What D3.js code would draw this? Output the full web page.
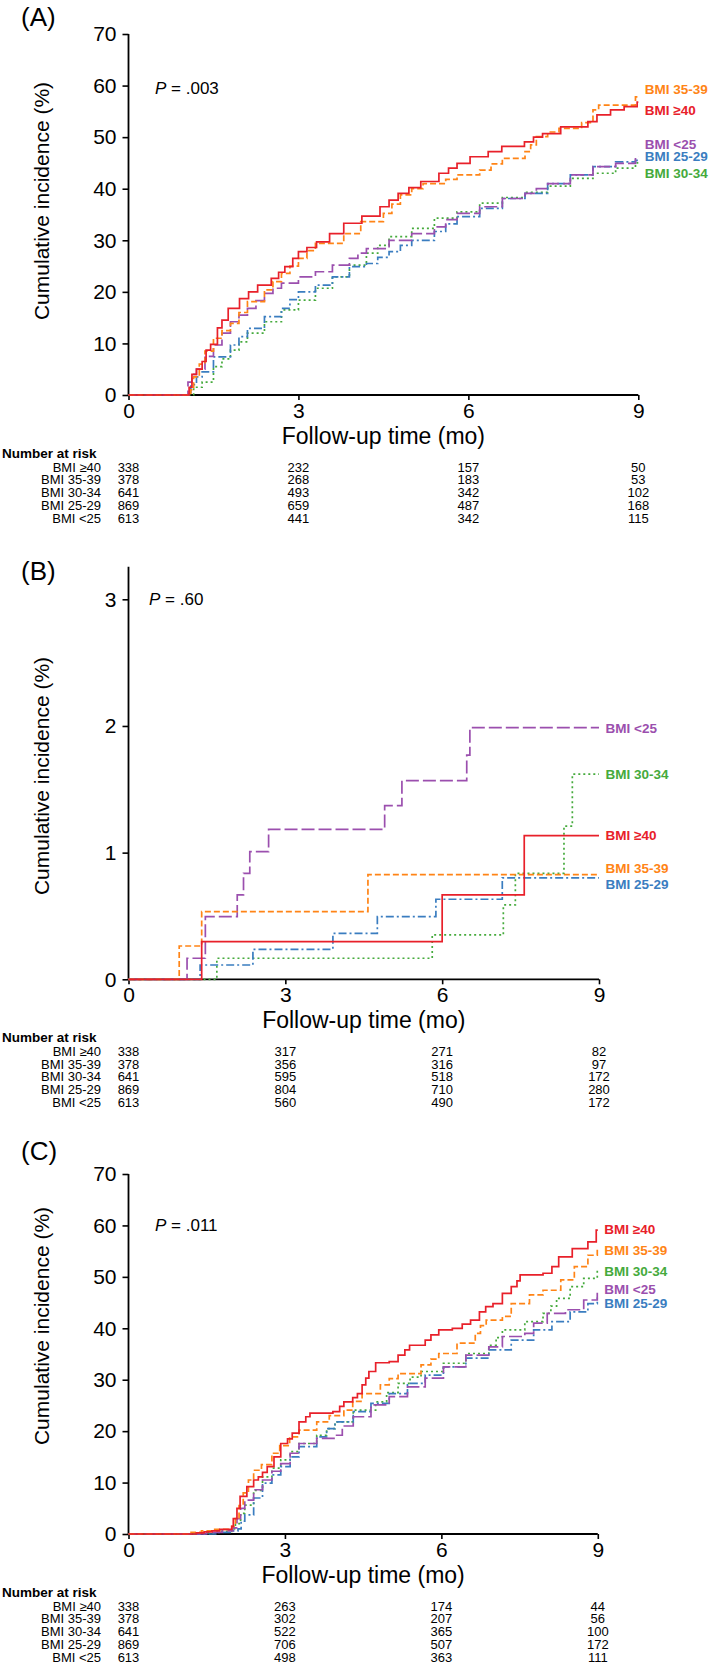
<!DOCTYPE html>
<html><head><meta charset="utf-8">
<script src="https://cdn.jsdelivr.net/npm/d3@7"></script>
<style>
body{margin:0;background:#fff;}
text{font-family:"Liberation Sans",Arial,Helvetica,sans-serif;}
</style></head>
<body>
<svg id="chart" width="709" height="1664"></svg>
<script>
// ---------- DATA ----------
const groups = ["BMI \u226540", "BMI 35-39", "BMI 30-34", "BMI 25-29", "BMI <25"];
const xTicks = [0, 3, 6, 9];
const yTicksAC = [0, 10, 20, 30, 40, 50, 60, 70];
const yTicksB = [0, 1, 2, 3];
const pValues = [".003", ".60", ".011"];
const panelLabels = ["(A)", "(B)", "(C)"];

// Panel A cumulative incidence (%), [month, value] step points
const A_bmi40 = [[0,0],[1.07,1.5],[1.12,4],[1.2,5],[1.3,6.5],[1.37,8.7],[1.45,9.8],[1.57,13],[1.65,14.5],[1.76,16.8],[1.96,18.7],[2.12,20],[2.28,21.3],[2.52,22.6],[2.65,23.8],[2.76,24.9],[2.9,26.5],[3,27.8],[3.15,28.6],[3.32,29.7],[3.55,31.3],[3.8,33.3],[4.12,34.7],[4.44,36.5],[4.6,37.8],[4.76,39.1],[4.95,40.2],[5.16,41.4],[5.48,43],[5.65,44],[5.8,44.9],[6.03,46.2],[6.35,47.2],[6.59,48.2],[6.99,49.1],[7.15,50],[7.31,50.7],[7.63,52],[8.11,53],[8.27,54.3],[8.51,55.3],[8.75,55.9],[8.98,56.8],[9,56.8]];
const A_bmi35 = [[0,0],[1.1,1],[1.15,3.5],[1.25,6],[1.35,8.5],[1.5,11],[1.65,12.5],[1.8,13.9],[1.95,16],[2.1,18.1],[2.4,20.4],[2.55,22],[2.7,23.6],[2.85,25],[3,26.5],[3.15,28],[3.3,29.4],[3.8,31.3],[4.1,33.6],[4.5,35.2],[4.65,37],[4.8,38.8],[5,40],[5.2,41],[5.6,41.8],[5.8,42.7],[6.2,43.6],[6.4,44.8],[6.6,45.9],[7,47.2],[7.1,48.5],[7.2,50.1],[7.4,51],[7.6,51.7],[8,52.8],[8.2,55.3],[8.3,56.2],[8.95,57.8],[9,57.8]];
const A_bmi30 = [[0,0],[1.15,1.5],[1.3,2.5],[1.5,5.5],[1.65,7],[1.8,8.7],[1.95,10.3],[2.1,12],[2.4,14.2],[2.7,16.5],[3,18.4],[3.3,20.7],[3.6,22.9],[3.9,25.2],[4.2,27.5],[4.4,29],[4.6,30.7],[5,32.3],[5.4,34.3],[5.8,35.5],[6.2,37.2],[6.6,38.3],[7,39.3],[7.4,40.5],[7.8,42],[8.2,43],[8.6,44],[8.95,45],[9,45]];
const A_bmi25 = [[0,0],[1.1,2],[1.2,3.5],[1.3,4.5],[1.5,7.4],[1.8,9.7],[1.95,11.3],[2.1,12.9],[2.4,15.2],[2.7,16.8],[2.85,18.5],[3,20],[3.3,21.3],[3.6,22.9],[3.9,24.9],[4.2,25.5],[4.4,26.7],[4.6,27.8],[4.8,29],[5,30],[5.4,31.7],[5.6,33.2],[5.8,34.6],[6.2,36.2],[6.6,38.1],[7,39.1],[7.4,41],[7.8,42.7],[8.2,44.3],[8.6,45.2],[8.95,45.5],[9,45.5]];
const A_bmiLt25 = [[0,0],[1.05,2.5],[1.12,4],[1.2,5],[1.35,7.5],[1.5,9.7],[1.65,12],[1.8,14.2],[1.95,15.5],[2.1,16.8],[2.25,18.3],[2.4,19.7],[2.55,20.7],[2.7,21.7],[3,22.9],[3.3,23.9],[3.6,25.2],[3.9,26.5],[4.05,27.5],[4.2,28.4],[4.6,30],[5,31.3],[5.4,32.6],[5.6,34],[5.8,35.2],[6.2,36.5],[6.6,38.1],[7,39.1],[7.2,40],[7.4,41],[7.8,42.7],[8.2,44.3],[8.6,44.9],[8.95,46.2],[9,46.2]];

// Panel B
const B_bmi40 = [[0,0],[1.4,0.297],[6.0,0.666],[7.57,1.134],[9,1.134]];
const B_bmi35 = [[0,0],[0.97,0.263],[1.4,0.534],[4.58,0.826],[9,0.826]];
const B_bmi30 = [[0,0],[1.69,0.166],[5.81,0.35],[7.17,0.587],[7.4,0.837],[8.33,1.21],[8.49,1.62],[9,1.62]];
const B_bmi25 = [[0,0],[1.37,0.113],[2.38,0.237],[3.91,0.363],[4.76,0.495],[5.88,0.632],[7.15,0.8],[9,0.8]];
const B_bmiLt25 = [[0,0],[1.12,0.166],[1.47,0.495],[2.08,0.666],[2.2,0.837],[2.32,1.008],[2.68,1.184],[4.9,1.371],[5.23,1.568],[6.47,1.77],[6.53,1.987],[9,1.987]];

// Panel C
const C_bmi40 = [[0,0],[1.3,0.2],[1.45,0.4],[1.6,0.6],[1.75,0.9],[1.98,1.5],[2.01,3],[2.08,5],[2.14,7.3],[2.27,9.2],[2.4,10.5],[2.49,11.1],[2.57,12],[2.66,13.1],[2.79,15],[2.92,17.6],[3.05,18.5],[3.14,19.6],[3.27,21.8],[3.4,22.8],[3.48,23.5],[3.92,23.8],[4.05,24.8],[4.13,25.7],[4.3,26.5],[4.39,27.3],[4.48,29],[4.55,30.3],[4.61,31.6],[4.74,33.3],[5,33.5],[5.17,34.8],[5.3,35.8],[5.39,36.7],[5.69,37.7],[5.8,38.7],[5.95,39.7],[6.21,40],[6.4,40.8],[6.56,41.6],[6.73,43.2],[6.85,44.2],[6.99,44.8],[7.17,46.8],[7.34,48.1],[7.45,49.2],[7.51,50.4],[7.95,50.7],[8.12,52],[8.25,53.9],[8.51,55.5],[8.81,56.8],[8.97,59.1],[9,59.1]];
const C_bmi35 = [[0,0],[1.2,0.3],[1.4,0.6],[1.6,0.9],[1.98,1.5],[2.05,3],[2.12,5.5],[2.2,8],[2.3,10.5],[2.4,12.4],[2.55,13.5],[2.75,15.7],[2.9,17.2],[3.09,18.9],[3.27,20.2],[3.61,21.8],[3.85,23],[4.13,24.1],[4.3,25.8],[4.48,27.3],[4.83,29],[5,30.2],[5.17,31.2],[5.61,32.9],[5.8,34],[5.95,35.1],[6.3,37.1],[6.65,39],[6.75,40.5],[6.86,41.6],[7.17,42.3],[7.34,44.8],[7.69,46.5],[7.95,47.4],[8.29,49.4],[8.55,52],[8.81,54.2],[8.99,55.5],[9,55.5]];
const C_bmi30 = [[0,0],[1.4,0.2],[1.7,0.5],[1.98,1],[2.05,2],[2.15,4],[2.23,5.6],[2.4,8.5],[2.57,11.1],[2.75,12.8],[2.92,14.4],[3.1,16],[3.27,17.6],[3.61,19.2],[3.8,20.5],[3.96,21.8],[4.31,24.1],[4.74,25.7],[4.95,27.5],[5.17,29.3],[5.4,30.5],[5.61,31.6],[6.04,33.2],[6.47,35.1],[6.91,36.7],[7.05,38.2],[7.17,39.7],[7.6,41.3],[7.95,42.9],[8.1,44.3],[8.21,45.8],[8.47,48.1],[8.73,49.7],[8.99,51.3],[9,51.3]];
const C_bmi25 = [[0,0],[1.7,0.3],[1.95,0.6],[2.1,1],[2.16,2.5],[2.23,3.7],[2.4,7],[2.57,9.9],[2.75,11.5],[2.92,13.1],[3.1,15],[3.27,17],[3.61,18.9],[3.8,20.5],[3.96,21.8],[4.31,23.8],[4.65,25.4],[5,27.3],[5.35,29.3],[5.69,30.9],[6.04,32.5],[6.47,34.2],[6.91,35.8],[7.34,37.7],[7.77,39.7],[8.12,41.3],[8.47,43.2],[8.81,44.8],[8.99,45.8],[9,45.8]];
const C_bmiLt25 = [[0,0],[1.5,0.3],[1.8,0.6],[2,1.2],[2.08,3],[2.15,5],[2.23,6.6],[2.4,8.6],[2.57,10.5],[2.75,12.2],[2.92,13.7],[3.1,15.7],[3.27,17.6],[3.61,18.6],[3.96,19.2],[4.1,21],[4.31,22.8],[4.65,25.1],[5,26.7],[5.35,28.6],[5.69,30.3],[6.04,32.5],[6.47,34.8],[6.91,36.4],[7.17,38.4],[7.6,39],[7.77,41],[8.03,42.9],[8.38,43.6],[8.73,45.5],[8.99,47.1],[9,47.1]];

// Number at risk (rows in order of groups, columns at months 0,3,6,9)
const A_risk = [[338,232,157,50],[378,268,183,53],[641,493,342,102],[869,659,487,168],[613,441,342,115]];
const B_risk = [[338,317,271,82],[378,356,316,97],[641,595,518,172],[869,804,710,280],[613,560,490,172]];
const C_risk = [[338,263,174,44],[378,302,207,56],[641,522,365,100],[869,706,507,172],[613,498,363,111]];

// End-label anchor values (in axis units) for each group
const A_labelY = [55.1, 59.3, 42.9, 46.2, 48.6];
const B_labelY = [1.133, 0.871, 1.618, 0.752, 1.98];
const C_labelY = [59.2, 55.2, 51.0, 44.9, 47.6];

// ---------- STYLE ----------
const colors = ["#E8202A", "#FF8416", "#45AA3C", "#3A7DC0", "#9B4FAE"];
const dashes = [null, "6,3", "2,3", "8,3,2,3", "13,4"];
const drawOrder = [2, 3, 4, 1, 0];

const svg = d3.select("#chart");
svg.append("rect").attr("width", 709).attr("height", 1664).attr("fill", "#fff");

const panels = [
  {label: panelLabels[0], labelY: 26, series: [A_bmi40, A_bmi35, A_bmi30, A_bmi25, A_bmiLt25], risk: A_risk, endY: A_labelY,
   x0: 128.5, x1: 638.3, yBottom: 395, yTop: 34, yDomain: [0, 70], yTicks: yTicksAC, p: pValues[0], pX: 155, pY: 93.5, titleY: 201},
  {label: panelLabels[1], labelY: 580, series: [B_bmi40, B_bmi35, B_bmi30, B_bmi25, B_bmiLt25], risk: B_risk, endY: B_labelY,
   x0: 128.5, x1: 599, yBottom: 979.3, yTop: 599.3, yDomain: [0, 3], yTicks: yTicksB, axisTop: 566.7, p: pValues[1], pX: 149, pY: 605, titleY: 776},
  {label: panelLabels[2], labelY: 1160, series: [C_bmi40, C_bmi35, C_bmi30, C_bmi25, C_bmiLt25], risk: C_risk, endY: C_labelY,
   x0: 128.5, x1: 597.8, yBottom: 1534, yTop: 1174, yDomain: [0, 70], yTicks: yTicksAC, p: pValues[2], pX: 155, pY: 1231, titleY: 1326}
];

panels.forEach(P => {
  const g = svg.append("g");
  const x = d3.scaleLinear().domain([0, 9]).range([P.x0, P.x1]);
  const y = d3.scaleLinear().domain(P.yDomain).range([P.yBottom, P.yTop]);

  // panel label
  g.append("text").attr("x", 21).attr("y", P.labelY).attr("font-size", 26).text(P.label);

  // y axis
  const yAx = g.append("g").attr("transform", `translate(${P.x0},0)`)
    .call(d3.axisLeft(y).tickValues(P.yTicks).tickSize(6).tickPadding(6).tickFormat(d3.format("d")));
  yAx.select(".domain").remove();
  const topPix = P.axisTop !== undefined ? P.axisTop : P.yTop;
  yAx.append("line").attr("x1", 0).attr("x2", 0).attr("y1", topPix).attr("y2", P.yBottom)
    .attr("stroke", "#000").attr("stroke-width", 1.8);
  yAx.selectAll(".tick line").attr("stroke-width", 1.6);
  yAx.selectAll(".tick text").attr("font-size", 21).attr("font-family", "Liberation Sans, Arial, sans-serif").attr("fill", "#000");

  // x axis
  const xAx = g.append("g").attr("transform", `translate(0,${P.yBottom})`)
    .call(d3.axisBottom(x).tickValues(xTicks).tickSize(5).tickPadding(3).tickFormat(d3.format("d")));
  xAx.select(".domain").remove();
  xAx.append("line").attr("x1", P.x0).attr("x2", P.x1).attr("y1", 0).attr("y2", 0)
    .attr("stroke", "#000").attr("stroke-width", 1.8);
  xAx.selectAll(".tick line").attr("stroke-width", 1.6);
  xAx.selectAll(".tick text").attr("font-size", 21).attr("font-family", "Liberation Sans, Arial, sans-serif").attr("fill", "#000");

  // titles
  g.append("text").attr("transform", `translate(41,${P.titleY}) rotate(-90)`)
    .attr("text-anchor", "middle").attr("dominant-baseline", "central").attr("font-size", 21)
    .text("Cumulative incidence (%)");
  g.append("text").attr("x", (P.x0 + P.x1) / 2).attr("y", P.yBottom + 48.5)
    .attr("text-anchor", "middle").attr("font-size", 23).text("Follow-up time (mo)");

  // P value
  const pt = g.append("text").attr("x", P.pX).attr("y", P.pY).attr("font-size", 17);
  pt.append("tspan").attr("font-style", "italic").text("P");
  pt.append("tspan").text(" = " + P.p);

  // curves
  const line = d3.line().x(d => x(d[0])).y(d => y(d[1])).curve(d3.curveStepAfter);
  drawOrder.forEach(i => {
    g.append("path").datum(P.series[i]).attr("d", line)
      .attr("fill", "none").attr("stroke", colors[i]).attr("stroke-width", 1.7)
      .attr("stroke-dasharray", dashes[i]);
  });

  // end labels
  groups.forEach((name, i) => {
    g.append("text").attr("x", P.x1 + 6.5).attr("y", y(P.endY[i]))
      .attr("dominant-baseline", "central").attr("font-size", 13.5).attr("font-weight", "bold")
      .attr("fill", colors[i]).text(name);
  });

  // number at risk
  g.append("text").attr("x", 2).attr("y", P.yBottom + 62.5).attr("font-size", 13.5)
    .attr("font-weight", "bold").text("Number at risk");
  groups.forEach((name, i) => {
    const by = P.yBottom + 76.5 + i * 12.8;
    g.append("text").attr("x", 101).attr("y", by).attr("text-anchor", "end").attr("font-size", 13).text(name);
    P.risk[i].forEach((n, j) => {
      g.append("text").attr("x", x(xTicks[j])).attr("y", by).attr("text-anchor", "middle")
        .attr("font-size", 13).text(n);
    });
  });
});
</script>
</body></html>
